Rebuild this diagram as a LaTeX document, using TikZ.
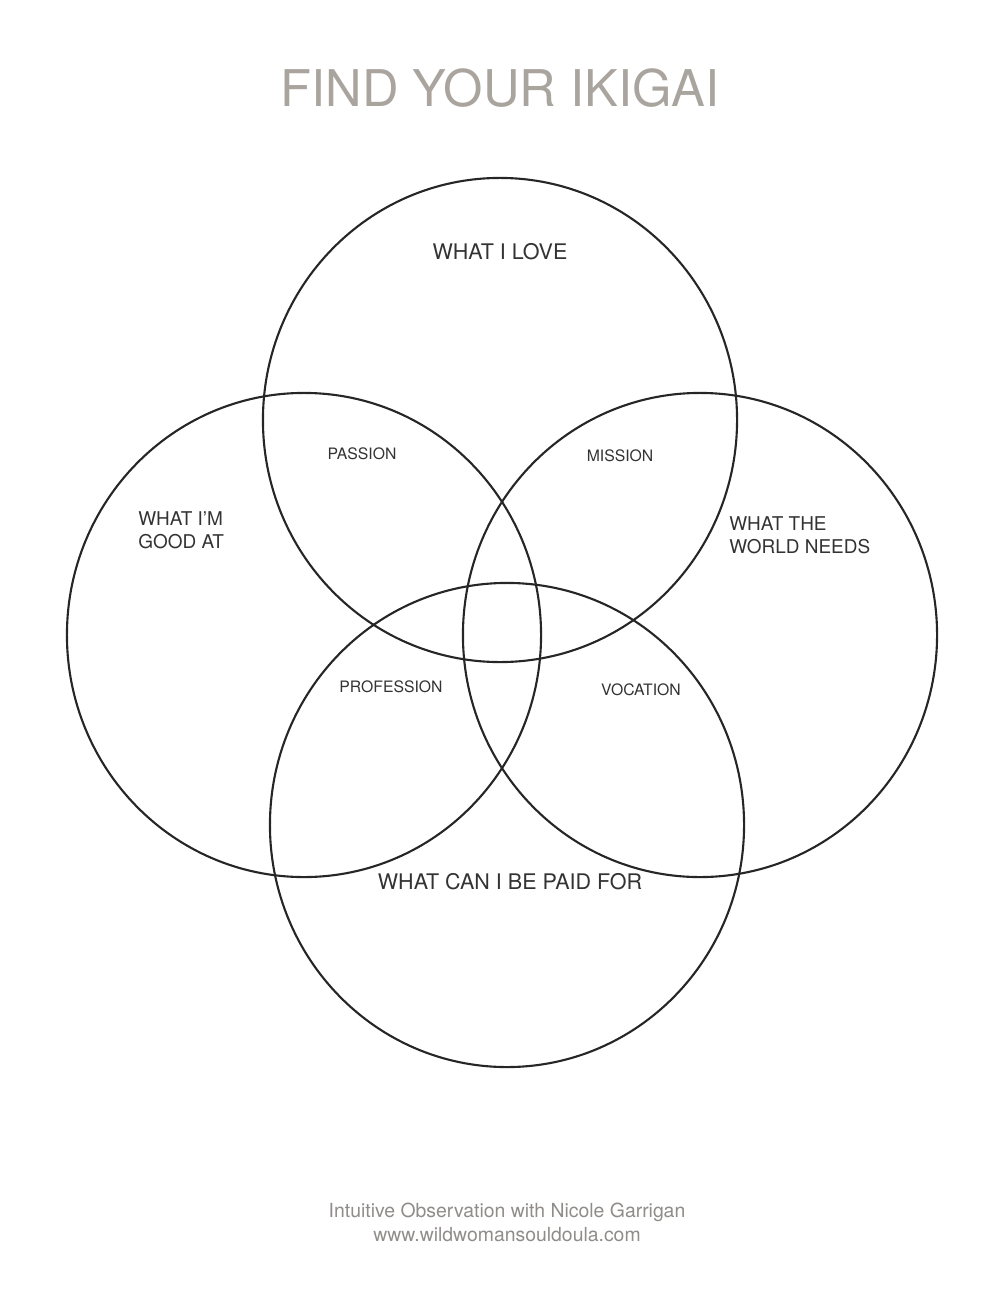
\documentclass[tikz,border=0pt]{standalone}
\usepackage{fontspec}
\setmainfont{TeX Gyre Heros}
\usepackage{xcolor}
\usepackage{tikz}
\usetikzlibrary{shapes.geometric, positioning}
\definecolor{titlegray}{HTML}{A9A49E}
\definecolor{footgray}{HTML}{8F8C89}

\begin{document}
\begin{tikzpicture}[
    x=0.025cm, y=-0.025cm,
    ring/.style={ellipse, draw=black!85, line width=1.5pt, minimum width=11.85cm, minimum height=12.1cm, inner sep=0pt},
    heading/.style={font=\fontsize{36}{40}\selectfont, text=titlegray, anchor=base},
    bigtext/.style={font=\fontsize{15.3}{18}\selectfont, text=black!80, anchor=base},
    sidetext/.style={font=\fontsize{13.5}{16}\selectfont, text=black!80, anchor=base west, inner xsep=0pt},
    smalltext/.style={font=\fontsize{11.2}{13}\selectfont, text=black!80, anchor=base},
    foottext/.style={font=\fontsize{13.8}{16}\selectfont, text=footgray, anchor=base}
]
\useasboundingbox (0,0) rectangle (1000,1294);

% Title
\node[heading] (title) at (500,107) {FIND YOUR IKIGAI};

% The four circles
\node[ring] (love) at (500,420) {};
\node[ring] (good) at (304,635) {};
\node[ring] (world) at (700,635) {};
\node[ring] (paid) at (507,825) {};

% Circle labels
\node[bigtext] (lovelbl) at (500,259) {WHAT I LOVE};
\node[sidetext] (goodlbl) at (138,525) {WHAT I'M};
\node[sidetext] (goodlblb) at (138,548) {GOOD AT};
\node[sidetext] (worldlbl) at (729,530) {WHAT THE};
\node[sidetext] (worldlblb) at (729,553) {WORLD NEEDS};
\node[bigtext] (paidlbl) at (510,889) {WHAT CAN I BE PAID FOR};

% Overlap labels
\node[smalltext] (passion) at (362,459) {PASSION};
\node[smalltext] (mission) at (620,461) {MISSION};
\node[smalltext] (profession) at (391,692) {PROFESSION};
\node[smalltext] (vocation) at (641,695) {VOCATION};

% Footer
\node[foottext] (credit) at (507,1217) {Intuitive Observation with Nicole Garrigan};
\node[foottext] (site) at (507,1241) {www.wildwomansouldoula.com};

\end{tikzpicture}
\end{document}
